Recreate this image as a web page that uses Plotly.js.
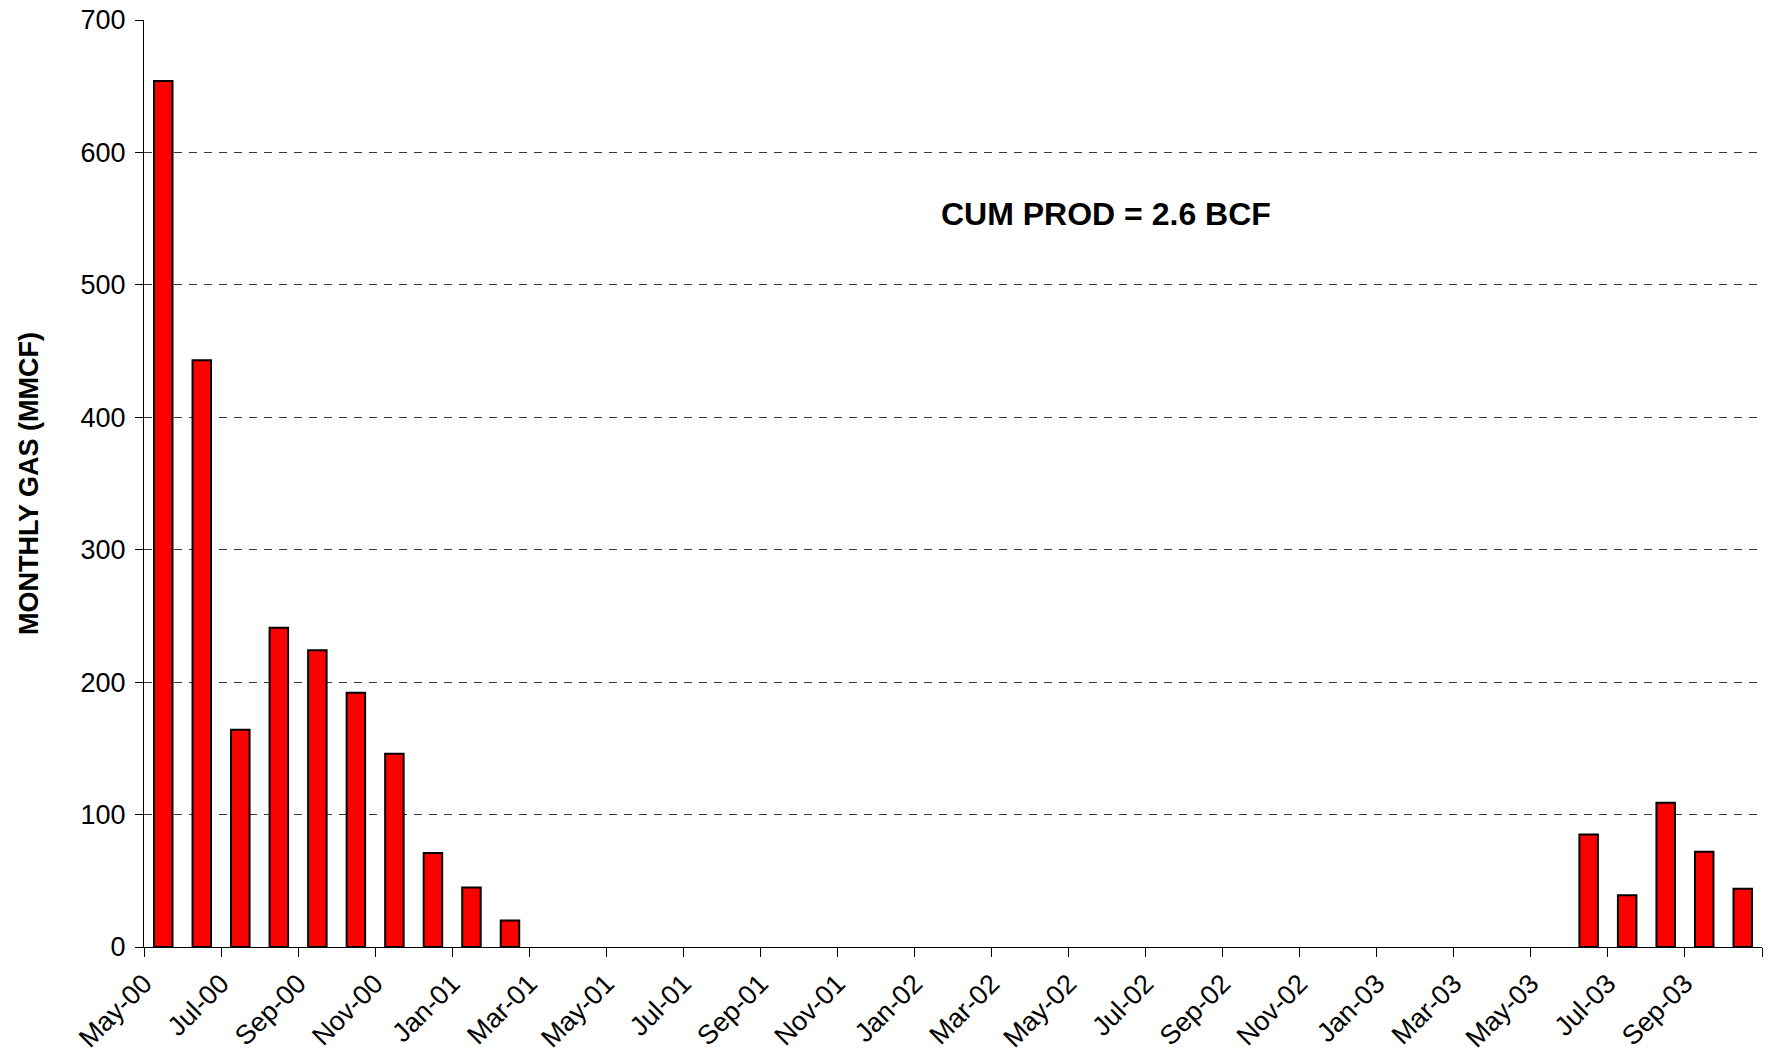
<!DOCTYPE html>
<html>
<head>
<meta charset="utf-8">
<script src="https://cdn.plot.ly/plotly-3.0.1.min.js"></script>
<style>
  html, body { margin: 0; padding: 0; background: #ffffff; }
  #chart { width: 1769px; height: 1054px; }
</style>
</head>
<body>
<div id="chart"></div>
<script>
// Months May-00 .. Oct-03
const months = [
  'May-00','Jun-00','Jul-00','Aug-00','Sep-00','Oct-00','Nov-00','Dec-00',
  'Jan-01','Feb-01','Mar-01','Apr-01','May-01','Jun-01','Jul-01','Aug-01','Sep-01','Oct-01','Nov-01','Dec-01',
  'Jan-02','Feb-02','Mar-02','Apr-02','May-02','Jun-02','Jul-02','Aug-02','Sep-02','Oct-02','Nov-02','Dec-02',
  'Jan-03','Feb-03','Mar-03','Apr-03','May-03','Jun-03','Jul-03','Aug-03','Sep-03','Oct-03'
];
// Monthly gas (MMCF); null = no production
const monthlyGas = [
  654, 443, 164, 241, 224, 192, 146, 71,
  45, 20, null, null, null, null, null, null, null, null, null, null,
  null, null, null, null, null, null, null, null, null, null, null, null,
  null, null, null, null, null, 85, 39, 109, 72, 44
];
const yTicks = [0, 100, 200, 300, 400, 500, 600, 700];
const annotationText = 'CUM PROD = 2.6 BCF';
const yTitle = 'MONTHLY GAS (MMCF)';

// category positions (index), ticks at category boundaries every 2 months
const xIdx = months.map((m, i) => i);
const tickVals = [], tickText = [];
months.forEach((m, i) => { if (i % 2 === 0) { tickVals.push(i - 0.5); tickText.push(m); } });
tickVals.push(months.length - 0.5); tickText.push('');

const font = 'Liberation Sans, Arial, sans-serif';

const trace = {
  type: 'bar',
  x: xIdx,
  y: monthlyGas,
  width: 0.48,
  marker: { color: '#ff0000', line: { color: '#000000', width: 2 } },
  hoverinfo: 'x+y'
};

const layout = {
  width: 1769, height: 1054,
  paper_bgcolor: '#ffffff', plot_bgcolor: '#ffffff',
  margin: { l: 144, r: 7, t: 20, b: 107 },
  showlegend: false,
  font: { family: font, color: '#000000', size: 27 },
  xaxis: {
    type: 'linear',
    range: [-0.5, months.length - 0.5],
    tickmode: 'array', tickvals: tickVals, ticktext: tickText,
    tickangle: -45,
    ticks: 'outside', ticklen: 9, tickwidth: 1, tickcolor: '#000000',
    showline: true, linecolor: '#000000', linewidth: 1,
    showgrid: false, zeroline: false,
    tickfont: { family: font, size: 27, color: '#000000' }
  },
  yaxis: {
    range: [0, 700],
    tickmode: 'array', tickvals: yTicks, ticktext: yTicks.map(String),
    ticks: 'outside', ticklen: 8, tickwidth: 1, tickcolor: '#000000',
    showline: true, linecolor: '#000000', linewidth: 1,
    showgrid: true, gridcolor: '#383838', gridwidth: 1, griddash: '8px,7px',
    zeroline: false,
    tickfont: { family: font, size: 27, color: '#000000' },
    ticklabelstandoff: 4,
    title: { text: '<b>' + yTitle + '</b>', font: { family: font, size: 27, color: '#000000' }, standoff: 34 }
  },
  annotations: [{
    xref: 'paper', yref: 'paper', x: 0.5947, y: 0.7905,
    xanchor: 'center', yanchor: 'middle', showarrow: false,
    text: '<b>' + annotationText + '</b>',
    font: { family: font, size: 32, color: '#000000' }
  }]
};

Plotly.newPlot('chart', [trace], layout, { displayModeBar: false, staticPlot: true });
</script>
</body>
</html>
